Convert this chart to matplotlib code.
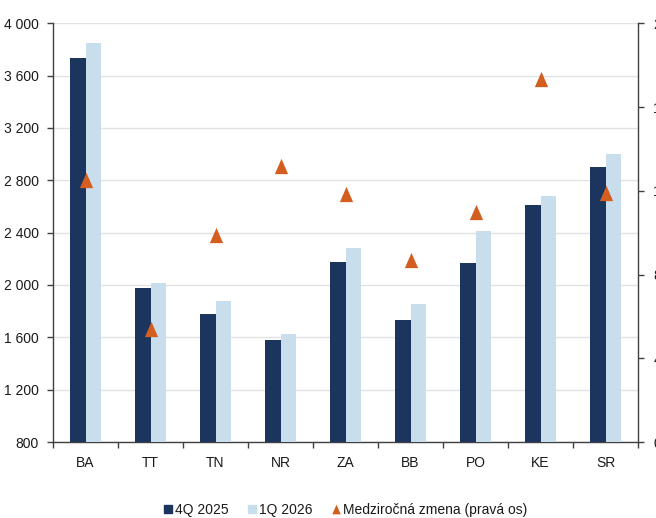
import numpy as np
import matplotlib
matplotlib.use("Agg")
import matplotlib.pyplot as plt
from matplotlib.lines import Line2D
from matplotlib.ticker import FuncFormatter, MultipleLocator

plt.rcParams['font.family'] = ['Liberation Sans Narrow', 'Liberation Sans', 'DejaVu Sans']

# Regions of Slovakia and the national total
regions = ["BA", "TT", "TN", "NR", "ZA", "BB", "PO", "KE", "SR"]
q4_2025 = [3732, 1975, 1781, 1583, 2174, 1736, 2166, 2608, 2903]
q1_2026 = [3847, 2013, 1875, 1623, 2281, 1858, 2411, 2681, 3003]
yoy_change = [12.5, 5.4, 9.9, 13.2, 11.85, 8.7, 11.0, 17.35, 11.9]

series_labels = ["4Q 2025", "1Q 2026", "Medziročná zmena (pravá os)"]

dark = "#1B355E"
light = "#C8DEEC"
orange = "#D35E1F"
spine_col = "#404040"
text_col = "#1a1a1a"
fs = 10

fig = plt.figure(figsize=(6.56, 5.18), dpi=100)
ax = fig.add_axes([53 / 656, 1 - 442 / 518, 585 / 656, (442 - 23.3) / 518])

x = np.arange(len(regions))
w = 0.24
ax.bar(x - w, q4_2025, width=w, align="edge", color=dark, zorder=3)
ax.bar(x, q1_2026, width=w, align="edge", color=light, zorder=3)

ax.set_xlim(-0.5, len(regions) - 0.5)
ax.set_ylim(800, 4000)
ax.yaxis.set_major_locator(MultipleLocator(400))
ax.yaxis.set_major_formatter(FuncFormatter(lambda v, p: f"{int(v):,}".replace(",", " ")))
ax.grid(axis="y", color="#E2E2E2", linewidth=1.0, zorder=0)
ax.set_axisbelow(True)

# category labels centred, tick marks on category boundaries
ax.set_xticks(x)
ax.set_xticklabels(regions)
ax.set_xticks(np.arange(-0.5, len(regions)), minor=True)
ax.tick_params(axis="x", which="major", length=0, pad=10, labelsize=fs, labelcolor=text_col)
ax.tick_params(axis="x", which="minor", length=4, width=1, color=spine_col, direction="out")
ax.tick_params(axis="y", length=4, width=1, color=spine_col, pad=6, labelsize=fs, labelcolor=text_col)

for side in ["top", "right"]:
    ax.spines[side].set_visible(False)
for side in ["left", "bottom"]:
    ax.spines[side].set_color(spine_col)
    ax.spines[side].set_linewidth(1)

ax2 = ax.twinx()
ax2.set_ylim(0, 20)
ax2.yaxis.set_major_locator(MultipleLocator(4))
tri = [(0, 1), (-0.87, -1), (0.87, -1), (0, 1)]
ax2.plot(x, yoy_change, linestyle="none", marker=tri, markersize=11,
         color=orange, markeredgewidth=0, zorder=5)
ax2.tick_params(axis="y", length=4, width=1, color=spine_col, pad=7, labelsize=fs, labelcolor=text_col)
for side in ["top", "left", "bottom"]:
    ax2.spines[side].set_visible(False)
ax2.spines["right"].set_color(spine_col)
ax2.spines["right"].set_linewidth(1)

handles = [
    Line2D([], [], linestyle="none", marker="s", markersize=5.5, color=dark),
    Line2D([], [], linestyle="none", marker="s", markersize=5.5, color=light),
    Line2D([], [], linestyle="none", marker=tri, markersize=7, color=orange, markeredgewidth=0),
]
fig.legend(handles, series_labels, loc="center", bbox_to_anchor=(345.5 / 656, 1 - 510 / 518),
           ncol=3, frameon=False, fontsize=fs, handlelength=0.6, handletextpad=0.2,
           columnspacing=1.4, labelcolor=text_col)

fig.savefig("out.png", dpi=100)
